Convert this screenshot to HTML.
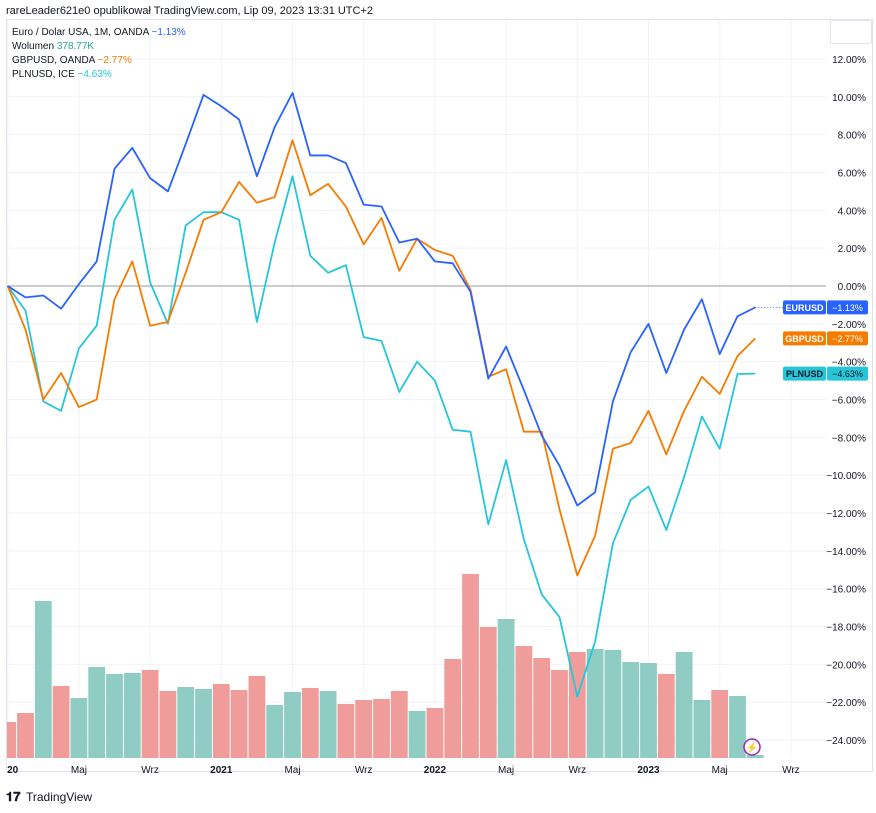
<!DOCTYPE html>
<html><head><meta charset="utf-8"><style>
body{margin:0;background:#fff;font-family:"Liberation Sans",sans-serif;}
svg text{font-family:"Liberation Sans",sans-serif;}
</style></head><body>
<svg id="c" width="876" height="808" xmlns="http://www.w3.org/2000/svg">
<rect x="0" y="0" width="876" height="808" fill="#fff"/>
<text x="6" y="14" font-size="11" fill="#131722">rareLeader621e0 opublikował TradingView.com, Lip 09, 2023 13:31 UTC+2</text>
<rect x="6.5" y="19.5" width="866" height="752" fill="none" stroke="#e0e3eb"/>
<g id="grid"></g>
<g id="vol"></g>
<line x1="7" x2="826" y1="286" y2="286" stroke="#9598a1" stroke-width="1"/>
<g id="lines"></g>
<g id="yaxis"></g>
<g id="xaxis"></g>
<g id="tags"></g>
<rect x="830.5" y="20.5" width="41" height="23" fill="#fff" stroke="#e0e3eb" rx="2"/>
<g font-size="10">
<text x="12" y="35" fill="#131722">Euro / Dolar USA, 1M, OANDA <tspan fill="#2962ff">−1.13%</tspan></text>
<text x="12" y="49" fill="#131722">Wolumen <tspan fill="#26a69a">378.77K</tspan></text>
<text x="12" y="63" fill="#131722">GBPUSD, OANDA <tspan fill="#f57c00">−2.77%</tspan></text>
<text x="12" y="77" fill="#131722">PLNUSD, ICE <tspan fill="#26c6da">−4.63%</tspan></text>
</g>
<circle cx="752" cy="747" r="8" fill="#fff" stroke="#9c27b0" stroke-width="1.5"/>
<text x="752" y="751" font-size="10" fill="#9c27b0" text-anchor="middle">⚡</text>
<g>
<text x="6" y="801" font-size="13" font-weight="bold" fill="#131722">𝟏𝟕</text>
<text x="26" y="801" font-size="12" fill="#131722">TradingView</text>
</g>
</svg>
<script>
const months=43;
const eur=[0,-0.6,-0.5,-1.2,0.1,1.3,6.2,7.3,5.7,5.0,7.5,10.1,9.5,8.8,5.8,8.4,10.2,6.9,6.9,6.5,4.3,4.2,2.3,2.5,1.3,1.2,-0.3,-4.9,-3.2,-5.5,-7.9,-9.5,-11.6,-10.9,-6.1,-3.5,-2.0,-4.6,-2.3,-0.7,-3.6,-1.6,-1.13];
const gbp=[0,-2.3,-6.0,-4.6,-6.4,-6.0,-0.7,1.3,-2.1,-1.9,0.7,3.5,3.9,5.5,4.4,4.7,7.7,4.8,5.4,4.2,2.2,3.6,0.8,2.5,1.9,1.6,-0.2,-4.8,-4.4,-7.7,-7.7,-11.8,-15.3,-13.2,-8.6,-8.3,-6.6,-8.9,-6.6,-4.8,-5.7,-3.7,-2.77];
const pln=[0,-1.3,-6.1,-6.6,-3.3,-2.1,3.5,5.1,0.2,-2.0,3.2,3.9,3.9,3.5,-1.9,2.3,5.8,1.6,0.7,1.1,-2.7,-2.9,-5.6,-4.0,-5.0,-7.6,-7.7,-12.6,-9.2,-13.4,-16.3,-17.5,-21.7,-18.8,-13.6,-11.3,-10.6,-12.9,-10.1,-6.9,-8.6,-4.65,-4.63];
const volume=[36,45,157,72,60,91,84,85,88,67,71,69,74,68,82,53,66,70,67,54,58,59,67,47,50,99,184,131,139,112,100,88,106,109,108,96,95,84,106,58,68,62,3];
const volUp=[0,0,1,0,1,1,1,1,0,0,1,1,0,0,0,1,1,0,1,0,0,0,0,1,0,0,0,0,1,0,0,0,0,1,1,1,1,0,1,1,0,1,1];
const yTicks=[12,10,8,6,4,2,0,-2,-4,-6,-8,-10,-12,-14,-16,-18,-20,-22,-24];
const xLabels=["2020","Maj","Wrz","2021","Maj","Wrz","2022","Maj","Wrz","2023","Maj","Wrz"];
const xLabelIdx=[0,4,8,12,16,20,24,28,32,36,40,44];
const NS="http://www.w3.org/2000/svg";
const xs=i=>7.7+17.8*i;
const ys=v=>286-v*18.92;
const yv=v=>758-v;
function mk(t,a,p){const e=document.createElementNS(NS,t);for(const k in a)e.setAttribute(k,a[k]);p.appendChild(e);return e;}
const grid=document.getElementById('grid');
yTicks.forEach(t=>{const l=mk('line',{x1:7,x2:826,y1:ys(t),y2:ys(t),stroke:'#f0f3fa'},grid);

});
xLabelIdx.forEach(i=>{const l=mk('line',{x1:xs(i),x2:xs(i),y1:20,y2:758,stroke:'#f0f3fa'},grid);

});
const vol=document.getElementById('vol');
volume.forEach((v,i)=>{const x0=Math.max(7,xs(i)-8.4),x1=xs(i)+8.4;
const r=mk('rect',{x:x0,y:yv(v),width:x1-x0,height:758-yv(v),fill:volUp[i]?'#8fccc4':'#f09c9a'},vol);

});
const lines=document.getElementById('lines');
[[pln,'#26c6da','plnusd-line'],[gbp,'#f57c00','gbpusd-line'],[eur,'#2962ff','eurusd-line']].forEach(([d,c,n])=>{
const p=mk('polyline',{points:d.map((v,i)=>xs(i)+','+ys(v)).join(' '),fill:'none',stroke:c,'stroke-width':1.8,'stroke-linejoin':'round'},lines);

});
const dl=mk('line',{x1:xs(42),x2:783,y1:ys(eur[42]),y2:ys(eur[42]),stroke:'#2962ff','stroke-dasharray':'1 2'},lines);


const ya=document.getElementById('yaxis');
yTicks.forEach(t=>{const tx=mk('text',{x:866,y:ys(t)+4,'font-size':10,fill:'#131722','text-anchor':'end'},ya);
tx.textContent=(t<0?'−':'')+Math.abs(t).toFixed(2)+'%';

});
const xa=document.getElementById('xaxis');
xLabels.forEach((s,k)=>{const x=xs(xLabelIdx[k]);const bold=/^\d/.test(s);
const tx=mk('text',{x:k==0?x+5:x,y:773,'font-size':10,'font-weight':bold?'bold':'normal',fill:'#131722','text-anchor':'middle'},xa);
tx.textContent=k==0?'20':s;

});
const tags=document.getElementById('tags');
[['EURUSD',eur[42],'#2962ff','#fff'],['GBPUSD',gbp[42],'#f57c00','#fff'],['PLNUSD',pln[42],'#26c6da','#131722']].forEach(([n,v,c,tc])=>{
const y=ys(v);
const g=mk('g',{},tags);


mk('rect',{x:783,y:y-7,width:43,height:14,fill:c,rx:2},g);
mk('rect',{x:827,y:y-7,width:41,height:14,fill:c,rx:2},g);
const a=mk('text',{x:804.5,y:y+3.5,'font-size':9,'font-weight':'bold',fill:tc,'text-anchor':'middle'},g);a.textContent=n;
const b=mk('text',{x:847.5,y:y+3.5,'font-size':9,fill:tc,'text-anchor':'middle'},g);b.textContent='−'+Math.abs(v).toFixed(2)+'%';});
</script>
</body></html>
